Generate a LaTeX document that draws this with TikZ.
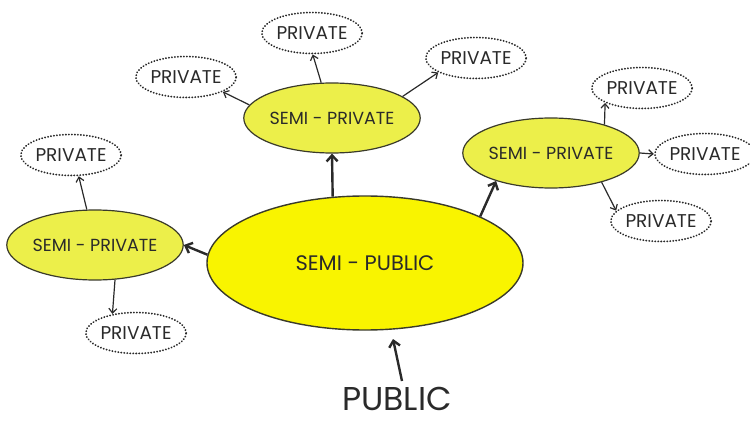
\documentclass[tikz,border=0pt]{standalone}
\usepackage{fontspec}
\setmainfont{Poppins}
\usetikzlibrary{shapes.geometric,arrows.meta}
\definecolor{ink}{HTML}{2A2A2A}
\definecolor{bigyel}{HTML}{F9F400}
\definecolor{smyel}{HTML}{ECEF4A}
\definecolor{rim}{HTML}{3A3A2A}
\begin{document}
\begin{tikzpicture}[x=1pt,y=-1pt,
  bigell/.style={ellipse,draw=rim,line width=1.4pt,fill=bigyel,inner sep=0pt,text=ink,font=\fontsize{21}{24}\selectfont},
  semiell/.style={ellipse,draw=rim,line width=1.2pt,fill=smyel,inner sep=0pt,minimum width=167pt,minimum height=70pt,text=ink,font=\fontsize{17.5}{20}\selectfont},
  privell/.style={ellipse,draw=ink,line width=2pt,dash pattern=on 0.1pt off 2.9pt,line cap=round,inner sep=0pt,minimum width=100pt,minimum height=41pt,text=ink,font=\fontsize{18.5}{21}\selectfont},
  thick arr/.style={draw=ink,line width=2.4pt,-{Straight Barb[length=6pt,width=11pt]}},
  thin arr/.style={draw=ink,line width=1.2pt,-{Straight Barb[length=4.5pt,width=8pt]}}
]
\useasboundingbox (0,0) rectangle (750,425);
\node[bigell,minimum width=316pt,minimum height=134pt] (sp) at (365,263) {SEMI - PUBLIC};
\node[semiell] (l) at (95,245) {SEMI - PRIVATE};
\node[semiell] (t) at (332,118) {SEMI - PRIVATE};
\node[semiell] (r) at (551,153) {SEMI - PRIVATE};
\node[privell] (lt) at (71,155) {PRIVATE};
\node[privell] (lb) at (136,333) {PRIVATE};
\node[privell] (tl) at (186,77) {PRIVATE};
\node[privell] (tt) at (312,33) {PRIVATE};
\node[privell] (tr) at (476,58) {PRIVATE};
\node[privell] (rt) at (642,88) {PRIVATE};
\node[privell,minimum width=92pt] (rm) at (705,154) {PRIVATE};
\node[privell] (rb) at (661,221) {PRIVATE};
\node[text=ink,font=\fontsize{33}{36}\selectfont,anchor=base,inner sep=0pt] (pub) at (397,410) {PUBLIC};
\coordinate (pubtail) at (402,381);
\coordinate (pubhead) at (393,339);
% thick arrows
\draw[thick arr] (sp.177) -- (l.east);
\draw[thick arr] (sp.116) -- (t.south);
\draw[thick arr] (sp.22) -- (r.207);
\draw[thick arr] (pubtail) -- (pubhead);
% thin arrows
\draw[thin arr] (l.103) -- (lt.290);
\draw[thin arr] (l.300) -- (lb.141);
\draw[thin arr] (t.171) -- (tl.338);
\draw[thin arr] (t.107) -- (tt.272);
\draw[thin arr] (t.17) -- (tr.201);
\draw[thin arr] (r.28) -- (rt.202);
\draw[thin arr] (r.east) -- (rm.west);
\draw[thin arr] (r.330) -- (rb.167);
\end{tikzpicture}
\end{document}
